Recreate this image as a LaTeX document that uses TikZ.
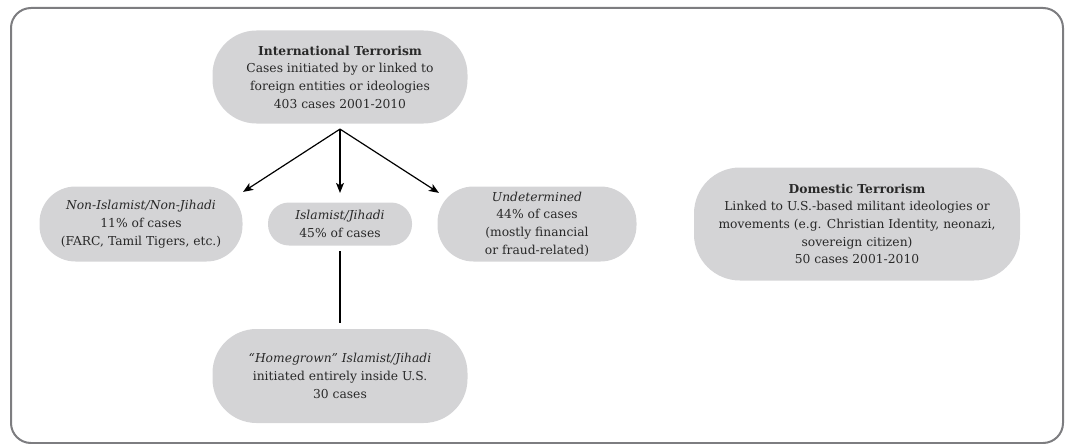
\documentclass[tikz,border=0pt]{standalone}
\usepackage{fontspec}
\setmainfont{DejaVu Serif}
\usetikzlibrary{arrows.meta}
\definecolor{casefill}{RGB}{212,212,214}
\definecolor{casetext}{RGB}{40,40,40}
\definecolor{framegray}{RGB}{125,125,128}

\begin{document}
\begin{tikzpicture}[x=1pt,y=-1pt,>={Stealth[length=10pt,width=8pt,inset=2.5pt]},line width=1.2pt,
                    case node/.style={rectangle,fill=casefill,text=casetext,align=center,inner sep=0pt,
                                      font=\fontsize{12.3}{17.7}\selectfont}]
  \useasboundingbox (0,0) rectangle (1065,444);
  \draw[framegray,line width=2pt,rounded corners=20pt] (11,8) rectangle (1063,443);
  \node[case node,minimum width=255pt,minimum height=93pt,rounded corners=44pt] (intl) at (340,77)
    {\textbf{International Terrorism}\\Cases initiated by or linked to\\foreign entities or ideologies\\403 cases 2001-2010};
  \node[case node,minimum width=144pt,minimum height=43pt,rounded corners=21pt] (islam) [below of=intl,node distance=147pt]
    {\textit{Islamist/Jihadi}\\45\% of cases};
  \node[case node,minimum width=203pt,minimum height=75pt,rounded corners=36pt] (nonisl) [left of=islam,node distance=199pt]
    {\textit{Non-Islamist/Non-Jihadi}\\11\% of cases\\(FARC, Tamil Tigers, etc.)};
  \node[case node,minimum width=199pt,minimum height=75pt,rounded corners=36pt] (undet) [right of=islam,node distance=197pt]
    {\textit{Undetermined}\\44\% of cases\\(mostly financial\\or fraud-related)};
  \node[case node,minimum width=255pt,minimum height=94pt,rounded corners=44pt] (home) [below of=islam,node distance=152pt]
    {\textit{“Homegrown” Islamist/Jihadi}\\initiated entirely inside U.S.\\30 cases};
  \node[case node,minimum width=326pt,minimum height=113pt,rounded corners=46pt] (dom) [right of=undet,node distance=320pt]
    {\textbf{Domestic Terrorism}\\Linked to U.S.-based militant ideologies or\\movements (e.g. Christian Identity, neonazi,\\sovereign citizen)\\50 cases 2001-2010};
  \coordinate (split) at ([yshift=-5pt]intl.south);
  \path[->]
    (split) edge ([yshift=-6pt]nonisl.north east)
            edge ([yshift=9pt]islam.north)
            edge ([shift={(2pt,-7pt)}]undet.north west);
  \draw[shorten <=5pt,shorten >=5pt] (islam) -- (home);
\end{tikzpicture}
\end{document}
